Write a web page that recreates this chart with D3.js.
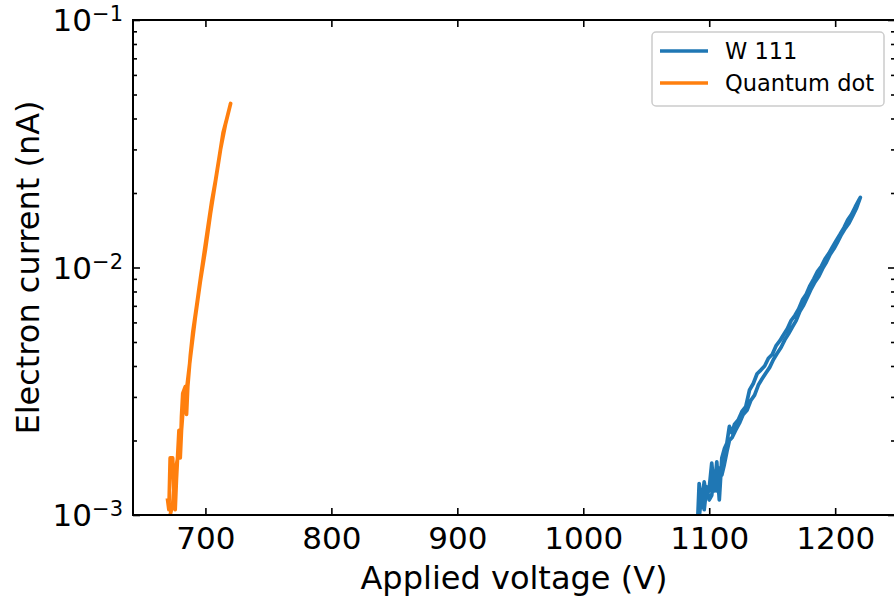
<!DOCTYPE html>
<html>
<head>
<meta charset="utf-8">
<script src="https://cdn.jsdelivr.net/npm/d3@7"></script>
<style>
  html, body { margin: 0; padding: 0; background: #fff; }
  svg { display: block; font-family: "DejaVu Sans", sans-serif; }
</style>
</head>
<body>
<svg id="chart" width="894" height="601"></svg>
<script>
// Field-emission sweeps (voltage up, then back down)
const seriesNames = ["W 111", "Quantum dot"];
const seriesColors = ["#1f77b4", "#ff7f0e"];

const wVoltage = [
  1091, 1092, 1094, 1096, 1098, 1100, 1102, 1104, 1106, 1108, 1110, 1112, 1114, 1116, 1118, 1120,
  1123, 1126, 1129, 1132, 1135, 1138, 1141, 1144, 1147, 1150, 1153, 1156, 1159, 1162, 1165, 1168,
  1171, 1174, 1177, 1180, 1183, 1186, 1189, 1192, 1195, 1198, 1201, 1204, 1207, 1210, 1213, 1216,
  1219, 1220,
  1217, 1214, 1211, 1208, 1205, 1202, 1199, 1196, 1193, 1190, 1187, 1184, 1181, 1178, 1175, 1172,
  1169, 1166, 1163, 1160, 1157, 1154, 1151, 1148, 1145, 1142, 1139, 1136, 1133, 1130, 1127, 1124,
  1121, 1118, 1116, 1114, 1112, 1110, 1108, 1106, 1104, 1102, 1100, 1098, 1096, 1094, 1092
];
const wCurrent = [
  0.00100, 0.00134, 0.00110, 0.00136, 0.00118, 0.00128, 0.00162, 0.00125, 0.00164, 0.00115, 0.00170,
  0.00185, 0.00195, 0.00228, 0.00215, 0.00232, 0.00242, 0.00262, 0.00274, 0.00320, 0.00340, 0.00372,
  0.00385, 0.00400, 0.00430, 0.00445, 0.00482, 0.00505, 0.00535, 0.00565, 0.00610, 0.00640, 0.00680,
  0.00740, 0.00780, 0.00845, 0.00900, 0.00965, 0.01010, 0.01085, 0.01140, 0.01215, 0.01290, 0.01365,
  0.01450, 0.01560, 0.01640, 0.01760, 0.01880, 0.01920,
  0.01740, 0.01620, 0.01510, 0.01440, 0.01360, 0.01270, 0.01190, 0.01130, 0.01050, 0.00990, 0.00920,
  0.00875, 0.00820, 0.00760, 0.00705, 0.00665, 0.00610, 0.00575, 0.00540, 0.00510, 0.00475, 0.00450,
  0.00425, 0.00395, 0.00375, 0.00355, 0.00335, 0.00305, 0.00290, 0.00265, 0.00255, 0.00235, 0.00220,
  0.00205, 0.00200, 0.00180, 0.00160, 0.00145, 0.00155, 0.00125, 0.00150, 0.00120, 0.00115, 0.00130,
  0.00105, 0.00120, 0.00098
];

const qdVoltage = [
  670, 671, 672, 674, 675, 676, 677, 679, 680, 681, 682, 684, 685, 686, 688, 690, 693, 696, 699, 702,
  705, 708, 711, 714, 717, 720,
  716, 712, 708, 704, 700, 696, 692, 688, 685, 683, 681, 680, 678, 676, 674, 672, 671
];
const qdCurrent = [
  0.00115, 0.00105, 0.00170, 0.00170, 0.00120, 0.00105, 0.00140, 0.00220, 0.00170, 0.00250, 0.00310,
  0.00330, 0.00255, 0.00330, 0.00440, 0.00550, 0.00700, 0.00900, 0.01150, 0.01460, 0.01850, 0.02250,
  0.02800, 0.03500, 0.04000, 0.04600,
  0.03800, 0.03000, 0.02220, 0.01650, 0.01180, 0.00880, 0.00630, 0.00430, 0.00320, 0.00300, 0.00220,
  0.00170, 0.00170, 0.00150, 0.00110, 0.00100, 0.00097
];

const xTicks = [700, 800, 900, 1000, 1100, 1200];
const yMajorTicks = [1e-3, 1e-2, 1e-1];
const yTickExponents = ["−3", "−2", "−1"];
const xDomain = [642.5, 1247.5];
const yDomain = [1e-3, 1e-1];
const xLabel = "Applied voltage (V)";
const yLabel = "Electron current (nA)";

const svg = d3.select("#chart");
const plotLeft = 133, plotRight = 895, plotTop = 20, plotBottom = 515;

const x = d3.scaleLinear().domain(xDomain).range([plotLeft, plotRight]);
const y = d3.scaleLog().domain(yDomain).range([plotBottom, plotTop]);

const yMinorTicks = [];
for (let e = -3; e < -1; e++) {
  for (let k = 2; k <= 9; k++) yMinorTicks.push(k * Math.pow(10, e));
}

svg.append("defs").append("clipPath").attr("id", "plot-clip")
  .append("rect").attr("x", plotLeft).attr("y", plotTop)
  .attr("width", plotRight - plotLeft).attr("height", plotBottom - plotTop);

// Data lines
const series = [
  { v: wVoltage, i: wCurrent },
  { v: qdVoltage, i: qdCurrent }
];
const line = d3.line().x(d => x(d[0])).y(d => y(d[1]));
const plot = svg.append("g").attr("clip-path", "url(#plot-clip)");
series.forEach((s, k) => {
  const pts = s.v.map((v, j) => [v, s.i[j]]);
  plot.append("path").datum(pts)
    .attr("d", line)
    .attr("fill", "none")
    .attr("stroke", seriesColors[k])
    .attr("stroke-width", 3.7)
    .attr("stroke-linejoin", "round")
    .attr("stroke-linecap", "square");
});

// Axes with inward ticks on all four sides
function styleAxis(g) {
  g.select(".domain").remove();
  g.selectAll(".tick line").attr("stroke", "#000").attr("stroke-width", 1.6);
}
svg.append("g").attr("transform", `translate(0,${plotBottom})`)
  .call(d3.axisBottom(x).tickValues(xTicks).tickSize(-7).tickPadding(12).tickFormat(d3.format("d")))
  .call(styleAxis)
  .call(g => g.selectAll("text").attr("font-size", 31).attr("fill", "#000")
    .attr("font-family", "DejaVu Sans, sans-serif"));
svg.append("g").attr("transform", `translate(0,${plotTop})`)
  .call(d3.axisTop(x).tickValues(xTicks).tickSize(-7).tickFormat(""))
  .call(styleAxis);
svg.append("g").attr("transform", `translate(${plotLeft},0)`)
  .call(d3.axisLeft(y).tickValues(yMajorTicks).tickSize(-7).tickFormat(""))
  .call(styleAxis);
svg.append("g").attr("transform", `translate(${plotLeft},0)`)
  .call(d3.axisLeft(y).tickValues(yMinorTicks).tickSize(-4).tickFormat(""))
  .call(styleAxis);
svg.append("g").attr("transform", `translate(${plotRight},0)`)
  .call(d3.axisRight(y).tickValues(yMajorTicks).tickSize(-7).tickFormat(""))
  .call(styleAxis);
svg.append("g").attr("transform", `translate(${plotRight},0)`)
  .call(d3.axisRight(y).tickValues(yMinorTicks).tickSize(-4).tickFormat(""))
  .call(styleAxis);

// Frame
svg.append("rect").attr("x", plotLeft).attr("y", plotTop)
  .attr("width", plotRight - plotLeft).attr("height", plotBottom - plotTop)
  .attr("fill", "none").attr("stroke", "#000").attr("stroke-width", 2);

// Y tick labels as powers of ten
yMajorTicks.forEach((t, k) => {
  const txt = svg.append("text")
    .attr("x", 123).attr("y", y(t) + 11)
    .attr("text-anchor", "end").attr("font-size", 31).attr("fill", "#000");
  txt.append("tspan").text("10");
  txt.append("tspan").attr("dy", -10).attr("font-size", 21).text(yTickExponents[k]);
});

// Axis titles
svg.append("text").attr("x", (plotLeft + plotRight) / 2).attr("y", 589)
  .attr("text-anchor", "middle").attr("font-size", 32).attr("fill", "#000").text(xLabel);
svg.append("text").attr("transform", `translate(39,${(plotTop + plotBottom) / 2}) rotate(-90)`)
  .attr("text-anchor", "middle").attr("font-size", 32).attr("fill", "#000").text(yLabel);

// Legend
const legend = svg.append("g");
legend.append("rect").attr("x", 652).attr("y", 32).attr("width", 232).attr("height", 74)
  .attr("rx", 4).attr("fill", "#fff").attr("fill-opacity", 0.8)
  .attr("stroke", "#cccccc").attr("stroke-width", 1.5);
seriesNames.forEach((name, k) => {
  const cy = 51 + k * 32;
  legend.append("line").attr("x1", 660).attr("x2", 708).attr("y1", cy).attr("y2", cy)
    .attr("stroke", seriesColors[k]).attr("stroke-width", 3.5);
  legend.append("text").attr("x", 725).attr("y", cy + 8)
    .attr("font-size", 22.5).attr("fill", "#000").text(name);
});
</script>
</body>
</html>
